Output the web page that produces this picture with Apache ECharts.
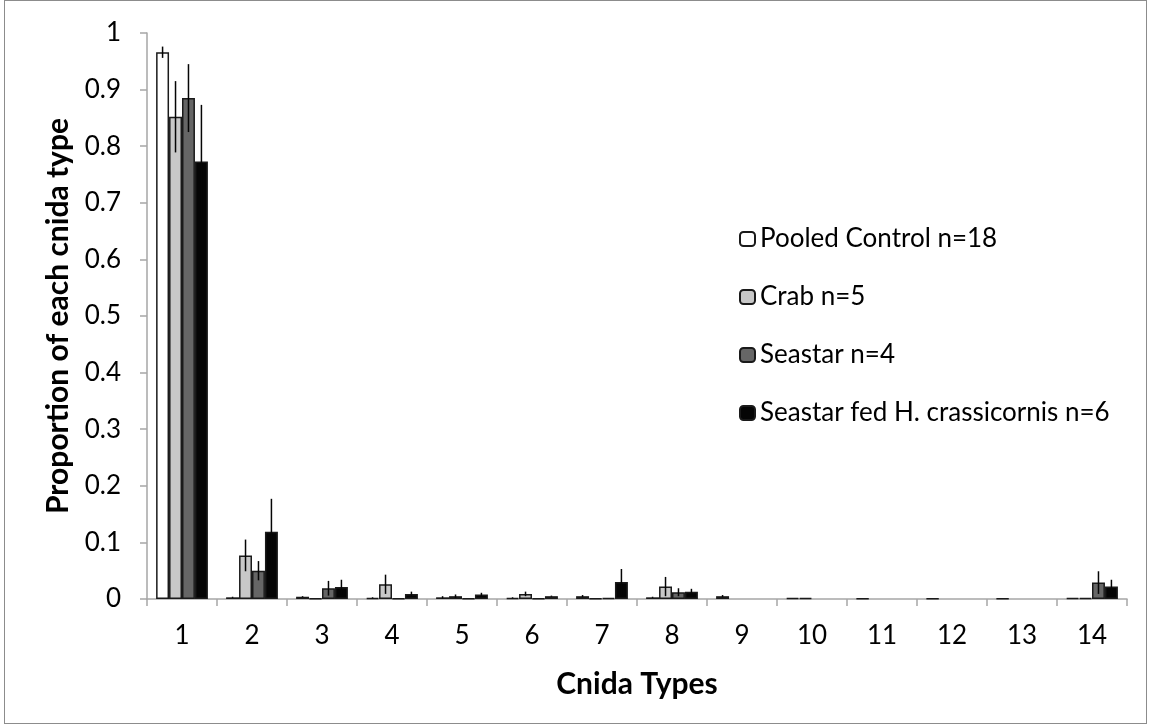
<!DOCTYPE html>
<html>
<head>
<meta charset="utf-8">
<script src="https://cdn.jsdelivr.net/npm/echarts@6/dist/echarts.min.js"></script>
<style>
html,body{margin:0;padding:0;background:#fff;}
#frame{position:absolute;left:4px;top:0px;width:1143px;height:724px;border:1px solid #8c8c8c;box-sizing:border-box;}
#chart{position:absolute;left:0;top:0;width:1151px;height:726px;}
</style>
</head>
<body>
<div id="frame"></div>
<div id="chart"></div>
<script>
const categories = ['1','2','3','4','5','6','7','8','9','10','11','12','13','14'];
const seriesNames = ['Pooled Control n=18','Crab n=5','Seastar n=4','Seastar fed H. crassicornis n=6'];
const pooled     = [0.966, 0.003, 0.004, 0.002, 0.003, 0.002, 0.005, 0.003, 0.005, 0.002, 0.001, 0.001, 0.001, 0.002];
const pooledErr  = [0.010, 0.001, 0.001, 0.001, 0.002, 0.001, 0.002, 0.001, 0.002, 0, 0, 0, 0, 0];
const crab       = [0.852, 0.077, 0.001, 0.026, 0.005, 0.009, 0.001, 0.022, null, 0.002, null, null, null, 0.002];
const crabErr    = [0.063, 0.028, 0, 0.017, 0.003, 0.004, 0, 0.017, 0, 0, 0, 0, 0, 0];
const seastar    = [0.885, 0.050, 0.019, 0.001, 0.001, 0.001, 0.002, 0.012, null, null, null, null, null, 0.029];
const seastarErr = [0.060, 0.017, 0.013, 0, 0, 0, 0, 0.007, 0, 0, 0, 0, 0, 0.020];
const fed        = [0.773, 0.119, 0.021, 0.009, 0.008, 0.005, 0.030, 0.013, null, null, null, null, null, 0.022];
const fedErr     = [0.100, 0.058, 0.013, 0.004, 0.003, 0.001, 0.023, 0.005, 0, 0, 0, 0, 0, 0.012];

const values = [pooled, crab, seastar, fed];
const errors = [pooledErr, crabErr, seastarErr, fedErr];
const fills = ['#ffffff', '#c8c8c8', '#666666', '#050505'];
const GAP = 0.26;
const FONT = 'Lato';

const errData = [];
values.forEach((arr, s) => arr.forEach((v, i) => {
  if (v != null && errors[s][i] > 0) errData.push([i, v, errors[s][i], s]);
}));

const chart = echarts.init(document.getElementById('chart'));
const series = values.map((arr, s) => ({
  name: seriesNames[s],
  type: 'bar',
  data: arr,
  barGap: '0%',
  barCategoryGap: (GAP * 100) + '%',
  itemStyle: { color: fills[s], borderColor: '#1a1a1a', borderWidth: 1.5 },
  emphasis: { disabled: true },
  z: 2
}));
series.push({
  type: 'custom',
  data: errData,
  z: 5,
  silent: true,
  encode: { x: 0, y: 1 },
  renderItem: function (params, api) {
    const cat = api.value(0), v = api.value(1), e = api.value(2), s = api.value(3);
    const band = api.size([1, 0])[0];
    const bw = band * (1 - GAP) / 4;
    const top = api.coord([cat, v + e]);
    const bot = api.coord([cat, Math.max(0, v - e)]);
    const x = top[0] - 2 * bw + bw * (s + 0.5);
    return {
      type: 'line',
      shape: { x1: x, y1: top[1], x2: x, y2: bot[1] },
      style: { stroke: '#050505', lineWidth: 1.5 }
    };
  }
});

chart.setOption({
  animation: false,
  backgroundColor: 'transparent',
  grid: { left: 147, right: 24, top: 33, bottom: 127, containLabel: false },
  legend: {
    data: seriesNames,
    orient: 'vertical',
    left: 734,
    top: 221,
    itemWidth: 15,
    itemHeight: 14,
    itemGap: 32,
    textStyle: { fontFamily: FONT, fontSize: 26, lineHeight: 26, color: '#000' }
  },
  xAxis: {
    type: 'category',
    data: categories,
    name: 'Cnida Types',
    nameLocation: 'middle',
    nameGap: 70,
    nameTextStyle: { fontFamily: FONT, fontSize: 30, fontWeight: 'bold', color: '#000' },
    axisLine: { lineStyle: { color: '#a6a6a6', width: 1.5 } },
    axisTick: { show: true, length: 7, lineStyle: { color: '#a6a6a6', width: 1.5 } },
    axisLabel: { fontFamily: FONT, fontSize: 26, color: '#000', margin: 24 }
  },
  yAxis: {
    type: 'value',
    min: 0,
    max: 1,
    interval: 0.1,
    name: 'Proportion of each cnida type',
    nameLocation: 'middle',
    nameGap: 74,
    nameRotate: 90,
    nameTextStyle: { fontFamily: FONT, fontSize: 30, fontWeight: 'bold', color: '#000' },
    splitLine: { show: false },
    axisLine: { show: true, lineStyle: { color: '#a6a6a6', width: 1.5 } },
    axisTick: { show: true, length: 7, lineStyle: { color: '#a6a6a6', width: 1.5 } },
    axisLabel: {
      fontFamily: FONT, fontSize: 26, color: '#000', margin: 26,
      formatter: function (v) { return String(Math.round(v * 10) / 10); }
    }
  },
  series: series
});
</script>
</body>
</html>
